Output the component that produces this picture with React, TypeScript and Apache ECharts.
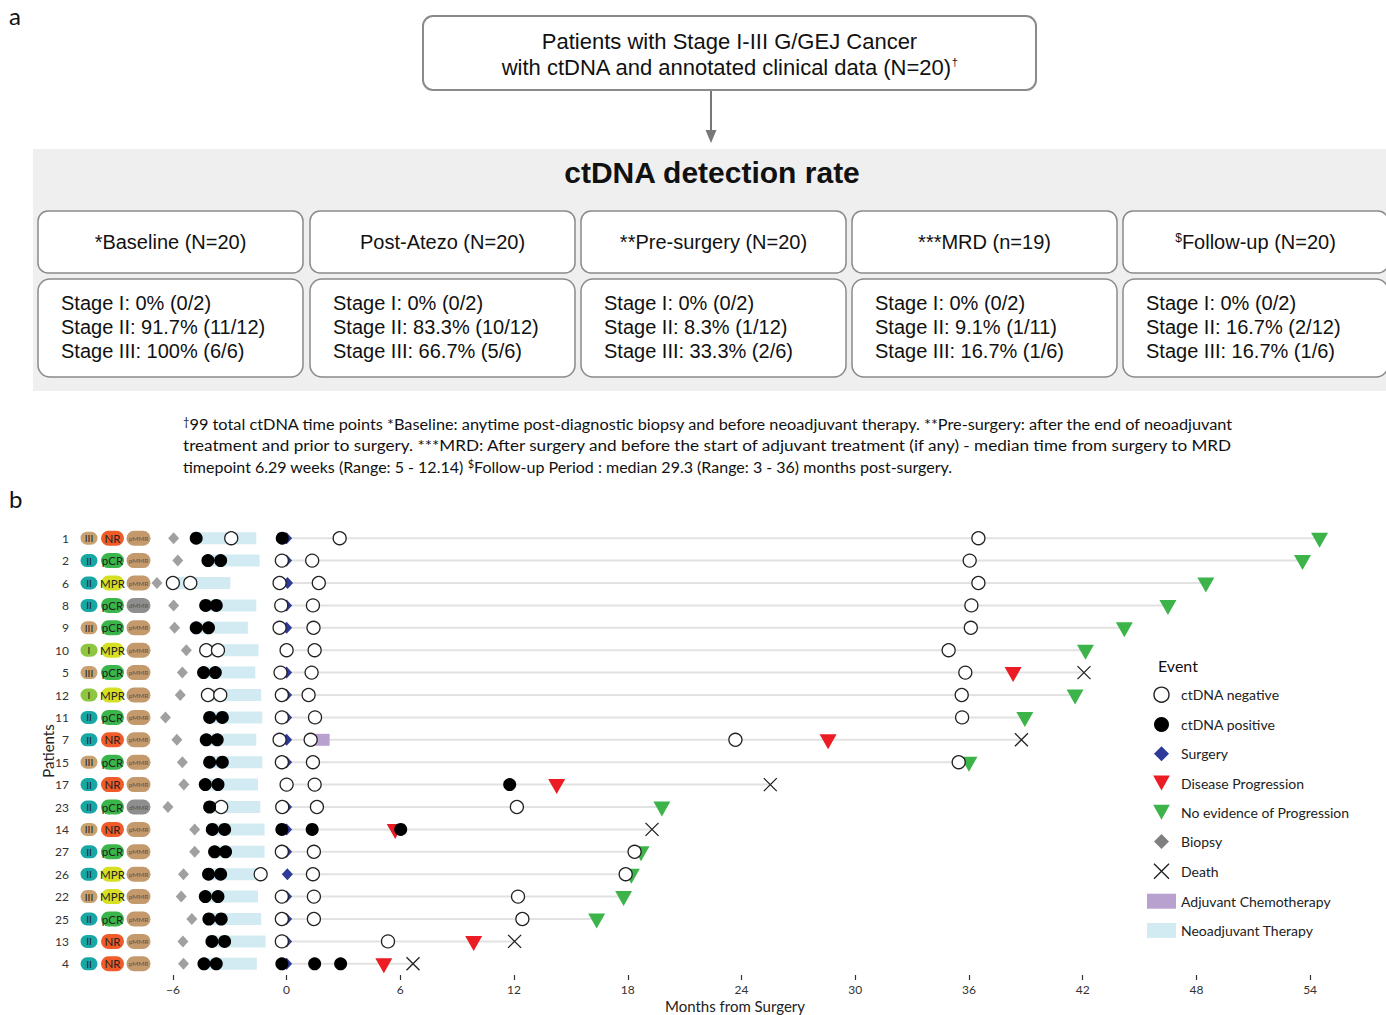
import React, { useEffect, useRef } from 'react';
import * as echarts from 'echarts';

// ---------- Panel a data ----------
const timepointLabels = ['*Baseline (N=20)', 'Post-Atezo (N=20)', '**Pre-surgery (N=20)', '***MRD (n=19)', '{sup|$}Follow-up (N=20)'];
const stageIRates = ['0% (0/2)', '0% (0/2)', '0% (0/2)', '0% (0/2)', '0% (0/2)'];
const stageIIRates = ['91.7% (11/12)', '83.3% (10/12)', '8.3% (1/12)', '9.1% (1/11)', '16.7% (2/12)'];
const stageIIIRates = ['100% (6/6)', '66.7% (5/6)', '33.3% (2/6)', '16.7% (1/6)', '16.7% (1/6)'];
const footnoteLines = [
  '{sup|†}99 total ctDNA time points *Baseline: anytime post-diagnostic biopsy and before neoadjuvant therapy. **Pre-surgery: after the end of neoadjuvant',
  'treatment and prior to surgery. ***MRD: After surgery and before the start of adjuvant treatment (if any) - median time from surgery to MRD',
  'timepoint 6.29 weeks (Range: 5 - 12.14) {sup|$}Follow-up Period : median 29.3 (Range: 3 - 36) months post-surgery.',
];

// ---------- Panel b data ----------
const patients = ['1', '2', '6', '8', '9', '10', '5', '12', '11', '7', '15', '17', '23', '14', '27', '26', '22', '25', '13', '4'];
const stages = ['III', 'II', 'II', 'II', 'III', 'I', 'III', 'I', 'II', 'II', 'III', 'II', 'II', 'III', 'II', 'II', 'III', 'II', 'II', 'II'];
const responses = ['NR', 'pCR', 'MPR', 'pCR', 'pCR', 'MPR', 'pCR', 'MPR', 'pCR', 'NR', 'pCR', 'NR', 'pCR', 'NR', 'pCR', 'MPR', 'MPR', 'pCR', 'NR', 'NR'];
const mmrStatus = ['pMMR', 'pMMR', 'pMMR', 'dMMR', 'pMMR', 'pMMR', 'pMMR', 'pMMR', 'pMMR', 'pMMR', 'pMMR', 'pMMR', 'dMMR', 'pMMR', 'pMMR', 'pMMR', 'pMMR', 'pMMR', 'pMMR', 'pMMR'];
const biopsyMonths = [-5.96, -5.74, -6.84, -5.96, -5.91, -5.29, -5.5, -5.61, -6.39, -5.79, -5.5, -5.42, -6.26, -4.85, -4.85, -5.44, -5.56, -5.0, -5.47, -5.44];
const neoStart = [-4.77, -4.15, -6.0, -4.27, -4.77, -4.24, -4.38, -4.15, -4.06, -4.24, -4.06, -4.29, -4.06, -3.92, -3.8, -4.12, -4.29, -4.1, -3.94, -4.36];
const neoEnd = [-1.6, -1.42, -2.97, -1.6, -2.04, -1.48, -1.65, -1.34, -1.28, -1.6, -1.28, -1.51, -1.39, -1.16, -1.16, -1.53, -1.51, -1.34, -1.11, -1.57];
const surgeryMonths = [0, 0, 0.05, 0, 0, 0, 0, 0, 0, 0, 0, 0, 0, 0, 0, 0.04, 0, 0, 0, 0];
const ctdnaNegative: number[][] = [
  [-2.92, 2.8, 36.5],
  [-0.25, 1.35, 36.04],
  [-6.0, -5.08, -0.37, 1.7, 36.5],
  [-0.28, 1.39, 36.13],
  [-0.37, 1.42, 36.1],
  [-4.24, -3.62, 0.0, 1.48, 34.93],
  [-0.32, 1.32, 35.81],
  [-4.15, -3.5, -0.25, 1.16, 35.62],
  [-0.25, 1.5, 35.64],
  [-0.37, 1.27, 23.68],
  [-0.25, 1.39, 35.46],
  [0.0, 1.48],
  [-3.45, -0.23, 1.6, 12.15],
  [],
  [-0.25, 1.44, 18.36],
  [-1.37, 1.39, 17.89],
  [-0.25, 1.44, 12.21],
  [-0.25, 1.44, 12.44],
  [-0.25, 5.35],
  [],
];
const ctdnaPositive: number[][] = [
  [-4.77, -0.23],
  [-4.15, -3.48],
  [],
  [-4.27, -3.71],
  [-4.77, -4.12],
  [],
  [-4.38, -3.76],
  [],
  [-4.06, -3.39],
  [-4.24, -3.66],
  [-4.06, -3.39],
  [-4.29, -3.62, 11.77],
  [-4.06],
  [-3.92, -3.27, -0.25, 1.35, 6.02],
  [-3.8, -3.22],
  [-4.12, -3.48],
  [-4.29, -3.62],
  [-4.1, -3.45],
  [-3.94, -3.27],
  [-4.36, -3.71, -0.25, 1.48, 2.85],
];
const progressionRows = [6, 9, 11, 13, 18, 19];
const progressionMonths = [38.33, 28.57, 14.25, 5.73, 9.87, 5.13];
const noProgressionRows = [0, 1, 2, 3, 4, 5, 7, 8, 10, 12, 14, 15, 16, 17];
const noProgressionMonths = [54.5, 53.6, 48.5, 46.5, 44.2, 42.15, 41.6, 38.95, 36.0, 19.8, 18.7, 18.19, 17.78, 16.36];
const deathRows = [6, 9, 11, 13, 18, 19];
const deathMonths = [42.07, 38.77, 25.52, 19.28, 12.03, 6.67];
const adjuvantRows = [9];
const adjuvantStart = [1.3];
const adjuvantEnd = [2.27];
const followUpEnd = [54.5, 53.6, 48.5, 46.5, 44.2, 42.15, 42.07, 41.6, 38.95, 38.77, 36.0, 25.52, 19.8, 19.28, 18.7, 18.19, 17.78, 16.36, 12.03, 6.67];
const xTickValues = [-6, 0, 6, 12, 18, 24, 30, 36, 42, 48, 54];

// ---------- styling ----------
const SANS = '"Liberation Sans", Arial, sans-serif';
const PLOT_FONT = 'Lato, "Open Sans", sans-serif';
const stageColor: Record<string, string> = { I: '#8dc63f', II: '#17a7a5', III: '#c9a06e' };
const respColor: Record<string, string> = { NR: '#f15a29', pCR: '#3ab54a', MPR: '#d7df23' };
const mmrColor: Record<string, string> = { pMMR: '#c49a6c', dMMR: '#8e8e8e' };
const TRI_DOWN = 'path://M0 0L10 0L5 9Z';
const DIAMOND = 'path://M5 0L10 5L5 10L0 5Z';
const CROSS = 'path://M0 0L10 10M10 0L0 10';

const HDR_X = [38, 310, 581, 852, 1123];
const FOOT_SCALE = [1.019, 1.071, 1];

function buildGraphics() {
  const g: any[] = [];
  const txt = (x: number, y: number, text: string, font: string, align = 'left', extra: any = {}, el: any = {}) => ({
    type: 'text', x, y, silent: true, ...el,
    style: { text, font, fill: '#111', align, textAlign: align, verticalAlign: 'middle', textVerticalAlign: 'middle', ...extra },
  });
  g.push(txt(9, 15, 'a', '24px ' + PLOT_FONT));
  g.push(txt(9, 498, 'b', '24px ' + PLOT_FONT));
  // top box
  g.push({ type: 'rect', silent: true, shape: { x: 423, y: 16, width: 613, height: 74, r: 10 }, style: { fill: '#fff', stroke: '#8a8a8a', lineWidth: 2 } });
  g.push(txt(729.5, 41, 'Patients with Stage I-III G/GEJ Cancer', '22px ' + SANS, 'center'));
  g.push(txt(729.5, 67, 'with ctDNA and annotated clinical data (N=20){sup|†}', '22px ' + SANS, 'center', {
    rich: { sup: { fontSize: 11, fontFamily: 'Liberation Sans', verticalAlign: 'top', fill: '#111' } },
  }));
  // arrow
  g.push({ type: 'line', silent: true, shape: { x1: 711, y1: 91, x2: 711, y2: 132 }, style: { stroke: '#777', lineWidth: 2 } });
  g.push({ type: 'polygon', silent: true, shape: { points: [[705.5, 130], [716.5, 130], [711, 143]] }, style: { fill: '#777' } });
  // grey panel
  g.push({ type: 'rect', silent: true, shape: { x: 33, y: 149, width: 1353, height: 242 }, style: { fill: '#efefef' } });
  g.push(txt(712, 172, 'ctDNA detection rate', 'bold 30px ' + SANS, 'center'));
  HDR_X.forEach((x, i) => {
    g.push({ type: 'rect', silent: true, shape: { x, y: 211, width: 265, height: 62, r: 10 }, style: { fill: '#fff', stroke: '#8a8a8a', lineWidth: 1.5 } });
    g.push({ type: 'rect', silent: true, shape: { x, y: 279, width: 265, height: 98, r: 12 }, style: { fill: '#fff', stroke: '#8a8a8a', lineWidth: 1.5 } });
    g.push(txt(x + 132.5, 242, timepointLabels[i], '20px ' + SANS, 'center', {
      rich: { sup: { fontSize: 12, fontFamily: 'Liberation Sans', verticalAlign: 'top', fill: '#111' } },
    }));
    g.push(txt(x + 23, 303, 'Stage I: ' + stageIRates[i], '20px ' + SANS));
    g.push(txt(x + 23, 327, 'Stage II: ' + stageIIRates[i], '20px ' + SANS));
    g.push(txt(x + 23, 351, 'Stage III: ' + stageIIIRates[i], '20px ' + SANS));
  });
  footnoteLines.forEach((line, i) => {
    g.push(txt(183, 424 + i * 21, line, '16px ' + PLOT_FONT, 'left', {
      rich: { sup: { fontSize: 11, fontFamily: 'Lato', verticalAlign: 'top', fill: '#111' } },
    }, { scaleX: FOOT_SCALE[i] }));
  });
  g.push(txt(1158, 665, 'Event', '16px ' + PLOT_FONT));
  return g;
}

function buildOption() {
  const negData = ctdnaNegative.flatMap((arr, r) => arr.map((m) => [m, r]));
  const posData = ctdnaPositive.flatMap((arr, r) => arr.map((m) => [m, r]));
  const legendText = { fontFamily: 'Lato', fontSize: 14, color: '#222' };
  return {
    animation: false,
    backgroundColor: '#fff',
    textStyle: { fontFamily: PLOT_FONT },
    graphic: buildGraphics(),
    grid: { left: 80, top: 527, width: 1268, height: 448 },
    legend: {
      orient: 'vertical', left: 1142, top: 681.5, itemWidth: 29, itemHeight: 15, itemGap: 14.2,
      selectedMode: false, textStyle: legendText,
      data: [
        { name: 'ctDNA negative', icon: 'circle', itemStyle: { color: '#fff', borderColor: '#222', borderWidth: 1.4, opacity: 1 } },
        { name: 'ctDNA positive', icon: 'circle', itemStyle: { color: '#000', borderWidth: 0, opacity: 1 } },
        { name: 'Surgery', icon: DIAMOND, itemStyle: { color: '#2e3a97', borderWidth: 0, opacity: 1 } },
        { name: 'Disease Progression', icon: TRI_DOWN, itemStyle: { color: '#ec1c24', borderWidth: 0, opacity: 1 } },
        { name: 'No evidence of Progression', icon: TRI_DOWN, itemStyle: { color: '#3cb44a', borderWidth: 0, opacity: 1 } },
        { name: 'Biopsy', icon: DIAMOND, itemStyle: { color: '#808080', borderWidth: 0, opacity: 1 } },
        { name: 'Death', icon: CROSS, itemStyle: { color: 'rgba(0,0,0,0)', borderColor: '#222', borderWidth: 1.4, opacity: 1 } },
        { name: 'Adjuvant Chemotherapy', icon: 'rect', itemStyle: { color: '#b8a0cf', borderWidth: 0, opacity: 1 } },
        { name: 'Neoadjuvant Therapy', icon: 'rect', itemStyle: { color: '#d2ebf3', borderWidth: 0, opacity: 1 } },
      ],
    },
    xAxis: {
      type: 'value', min: -10.9, max: 56,
      name: 'Months from Surgery', nameLocation: 'middle', nameGap: 23,
      nameTextStyle: { fontFamily: 'Lato', fontSize: 15, color: '#222', padding: [0, 0, 0, 42] },
      axisLine: { show: false },
      axisTick: { show: true, length: 5, customValues: xTickValues, lineStyle: { color: '#333', width: 1.2 } },
      axisLabel: {
        customValues: xTickValues, fontFamily: 'Lato', fontSize: 12, color: '#333', margin: 8,
        formatter: (v: number) => (v < 0 ? '\u2212' + Math.abs(v) : String(v)),
      },
      splitLine: { show: false },
    },
    yAxis: {
      type: 'category', data: patients, inverse: true, offset: 3,
      name: 'Patients', nameLocation: 'middle', nameGap: 22, nameRotate: 90, nameMoveOverlap: false,
      nameTextStyle: { fontFamily: 'Lato', fontSize: 15, color: '#222' },
      axisLine: { show: false },
      axisTick: { show: true, alignWithLabel: true, length: 4, lineStyle: { color: '#333', width: 1.5 } },
      axisLabel: { fontFamily: 'Lato', fontSize: 12, color: '#333', margin: 8 },
      splitLine: { show: false },
    },
    series: [
      {
        name: 'followup', type: 'custom', z: 1, silent: true,
        data: followUpEnd.map((e, i) => [surgeryMonths[i], i, e]),
        encode: { x: [0, 2], y: 1 },
        renderItem: (params: any, api: any) => {
          const s = api.coord([api.value(0), api.value(1)]);
          const e = api.coord([api.value(2), api.value(1)]);
          return { type: 'line', shape: { x1: s[0], y1: s[1], x2: e[0], y2: e[1] }, style: { stroke: '#e2e2e2', lineWidth: 2 } };
        },
      },
      {
        name: 'Neoadjuvant Therapy', type: 'custom', z: 2, silent: true,
        itemStyle: { color: '#d2ebf3' },
        data: neoStart.map((s, i) => [s, i, neoEnd[i]]),
        encode: { x: [0, 2], y: 1 },
        renderItem: (params: any, api: any) => {
          const s = api.coord([api.value(0), api.value(1)]);
          const e = api.coord([api.value(2), api.value(1)]);
          return { type: 'rect', shape: { x: s[0], y: s[1] - 6, width: e[0] - s[0], height: 12 }, style: { fill: '#d2ebf3' } };
        },
      },
      {
        name: 'Adjuvant Chemotherapy', type: 'custom', z: 2, silent: true,
        itemStyle: { color: '#b8a0cf' },
        data: adjuvantRows.map((r, i) => [adjuvantStart[i], r, adjuvantEnd[i]]),
        encode: { x: [0, 2], y: 1 },
        renderItem: (params: any, api: any) => {
          const s = api.coord([api.value(0), api.value(1)]);
          const e = api.coord([api.value(2), api.value(1)]);
          return { type: 'rect', shape: { x: s[0], y: s[1] - 6, width: e[0] - s[0], height: 12 }, style: { fill: '#b8a0cf' } };
        },
      },
      {
        name: 'badges', type: 'custom', z: 2, silent: true,
        data: patients.map((p, i) => [-10.9, i]),
        encode: { x: 0, y: 1 },
        renderItem: (params: any, api: any) => {
          const row = api.value(1);
          const y = api.coord([0, row])[1];
          const x0 = params.coordSys.x;
          const st = stages[row];
          const rs = responses[row];
          const mm = mmrStatus[row];
          const t = (x: number, text: string, size: number, fill: string) => ({
            type: 'text', x, y,
            style: { text, font: `${size}px Lato`, fill, align: 'center', verticalAlign: 'middle', textAlign: 'center', textVerticalAlign: 'middle' },
          });
          return {
            type: 'group',
            children: [
              { type: 'rect', shape: { x: x0 + 0.5, y: y - 6.5, width: 17, height: 13, r: 6.5 }, style: { fill: stageColor[st] } },
              t(x0 + 9, st, 10, '#222'),
              { type: 'rect', shape: { x: x0 + 21, y: y - 7.5, width: 23, height: 15, r: 7.5 }, style: { fill: respColor[rs] } },
              t(x0 + 32.5, rs, 11.5, '#222'),
              { type: 'rect', shape: { x: x0 + 46.5, y: y - 7.5, width: 24, height: 15, r: 7.5 }, style: { fill: mmrColor[mm] } },
              t(x0 + 58.5, mm, 6.5, '#555'),
            ],
          };
        },
      },
      {
        name: 'Biopsy', type: 'scatter', z: 3, silent: true,
        symbol: 'diamond', symbolSize: [11, 12],
        itemStyle: { color: '#a0a0a0', opacity: 1 },
        data: biopsyMonths.map((m, i) => [m, i]),
      },
      {
        name: 'Surgery', type: 'scatter', z: 3, silent: true,
        symbol: 'diamond', symbolSize: [11, 12],
        itemStyle: { color: '#2e3a97', opacity: 1 },
        data: surgeryMonths.map((m, i) => [m, i]),
      },
      {
        name: 'Disease Progression', type: 'scatter', z: 4, silent: true,
        symbol: TRI_DOWN, symbolSize: [17, 15], symbolOffset: [0, 2],
        itemStyle: { color: '#ec1c24', opacity: 1 },
        data: progressionRows.map((r, i) => [progressionMonths[i], r]),
      },
      {
        name: 'No evidence of Progression', type: 'scatter', z: 4, silent: true,
        symbol: TRI_DOWN, symbolSize: [17, 15], symbolOffset: [0, 2],
        itemStyle: { color: '#3cb44a', opacity: 1 },
        data: noProgressionRows.map((r, i) => [noProgressionMonths[i], r]),
      },
      {
        name: 'Death', type: 'scatter', z: 4, silent: true,
        symbol: CROSS, symbolSize: 13,
        itemStyle: { color: 'rgba(0,0,0,0)', borderColor: '#222', borderWidth: 1.3, opacity: 1 },
        data: deathRows.map((r, i) => [deathMonths[i], r]),
      },
      {
        name: 'ctDNA negative', type: 'scatter', z: 5, silent: true,
        symbol: 'circle', symbolSize: 13,
        itemStyle: { color: '#fff', borderColor: '#222', borderWidth: 1.3, opacity: 1 },
        data: negData,
      },
      {
        name: 'ctDNA positive', type: 'scatter', z: 6, silent: true,
        symbol: 'circle', symbolSize: 13,
        itemStyle: { color: '#000', opacity: 1 },
        data: posData,
      },
    ],
  };
}

export default function App() {
  const ref = useRef<HTMLDivElement>(null);
  useEffect(() => {
    if (!ref.current) return;
    const chart = echarts.init(ref.current, null, { renderer: 'svg' });
    chart.setOption(buildOption() as any);
    return () => chart.dispose();
  }, []);
  return <div ref={ref} style={{ position: 'fixed', left: 0, top: 0, width: 1386, height: 1015, background: '#fff' }} />;
}
